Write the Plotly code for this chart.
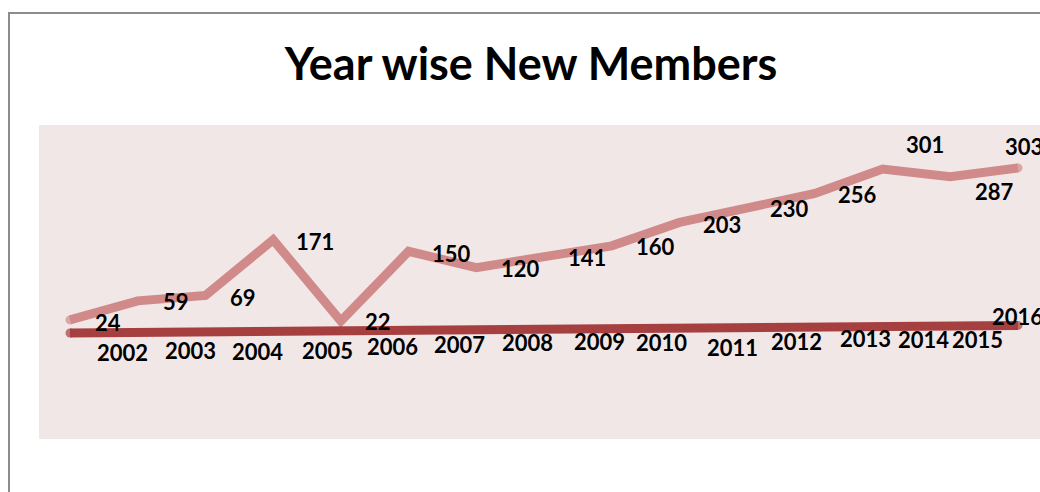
import plotly.graph_objects as go

# ---- data ----
years = [2002, 2003, 2004, 2005, 2006, 2007, 2008, 2009, 2010, 2011, 2012, 2013, 2014, 2015, 2016]
members = [24, 59, 69, 171, 22, 150, 120, 141, 160, 203, 230, 256, 301, 287, 303]
categories = [str(y) for y in years]

# ---- label offsets (pixels: right, down) ----
mem_dx = [25, 25, 25, 23, 24, 23, 25, 24, 24, 24, 23, 23, 23, 25, -13]
mem_dy = [3, 1, 2, 2, 0, 2, 1, 1, 1, 2, 1, 1, -24, 15, -21]
yr_dx = [27, 27, 27, 29, 26, 25, 26, 30, 24, 28, 24, 25, 15, 2, -26]
yr_dy = [19, 18, 20, 19, 16, 14, 13, 12, 14, 19, 14, 11, 13, 14, -9]

MEM_COLOR = "#D08A8A"
YEAR_COLOR = "#A63F3F"
FONT = "Lato"
LW = 9

y1_range = [-194.5, 381.7]
y2_range = [y1_range[0] + years[0], y1_range[1] + years[0]]

# round line caps: marker only at the two ends
cap_sizes = [LW] + [0] * (len(years) - 2) + [LW]

fig = go.Figure()
fig.add_trace(go.Scatter(x=categories, y=years, mode="lines+markers", yaxis="y2",
                         line=dict(color=YEAR_COLOR, width=LW),
                         marker=dict(color=YEAR_COLOR, size=cap_sizes, line=dict(width=0)),
                         hoverinfo="skip"))
fig.add_trace(go.Scatter(x=categories, y=members, mode="lines+markers",
                         line=dict(color=MEM_COLOR, width=LW),
                         marker=dict(color=MEM_COLOR, size=cap_sizes, line=dict(width=0)),
                         hoverinfo="skip"))

annotations = []
for i, (v, dx, dy) in enumerate(zip(members, mem_dx, mem_dy)):
    annotations.append(dict(x=i, y=v, xref="x", yref="y", text="<b>%d</b>" % v, showarrow=False,
                            xanchor="left", yanchor="middle", xshift=dx - 2, yshift=-dy,
                            font=dict(family=FONT, size=22, color="#000000")))
for i, (v, dx, dy) in enumerate(zip(years, yr_dx, yr_dy)):
    annotations.append(dict(x=i, y=v, xref="x", yref="y2", text="<b>%d</b>" % v, showarrow=False,
                            xanchor="left", yanchor="middle", xshift=dx - 2, yshift=-dy,
                            font=dict(family=FONT, size=22, color="#000000")))

fig.update_layout(
    width=1040, height=492,
    margin=dict(l=39, r=0, t=125, b=53),
    paper_bgcolor="#FFFFFF",
    plot_bgcolor="#F2E7E7",
    showlegend=False,
    title=dict(text="<b>Year wise New Members</b>", x=531 / 1040, xanchor="center",
               y=1 - 64 / 492, yanchor="middle",
               font=dict(family=FONT, size=45, color="#000000")),
    xaxis=dict(type="category", range=[-0.458, 14.325], showgrid=False, zeroline=False,
               showticklabels=False, showline=False, ticks=""),
    yaxis=dict(range=y1_range, showgrid=False, zeroline=False, showticklabels=False,
               showline=False, ticks=""),
    yaxis2=dict(range=y2_range, overlaying="y", side="right", showgrid=False, zeroline=False,
                showticklabels=False, showline=False, ticks=""),
    annotations=annotations,
    shapes=[dict(type="rect", xref="paper", yref="paper",
                 x0=(9 - 39) / 1001, x1=1.1, y0=-0.5, y1=(439 - 13) / 314,
                 line=dict(color="#8C8C8C", width=2), fillcolor="rgba(0,0,0,0)", layer="below")],
)

fig.write_html("out.html")
